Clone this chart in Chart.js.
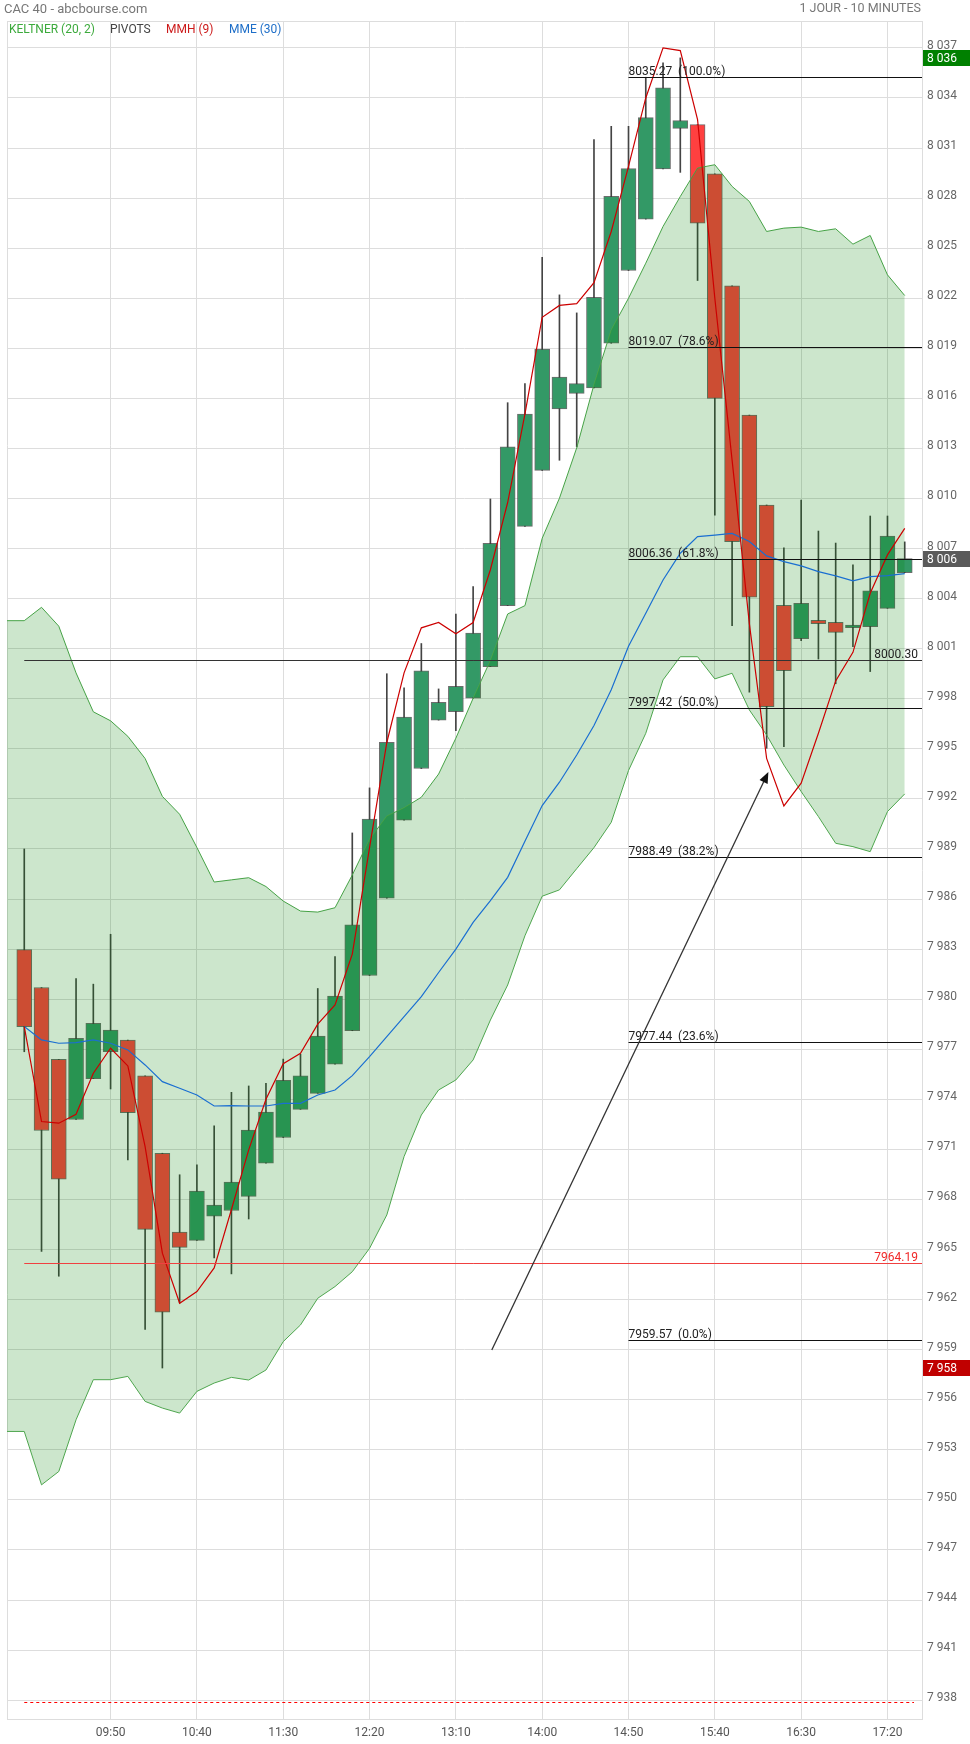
<!DOCTYPE html>
<html><head><meta charset="utf-8">
<script src="https://cdn.jsdelivr.net/npm/chart.js@4.4.1/dist/chart.umd.min.js"></script>
<style>
html,body{margin:0;padding:0;background:#fff;}
#wrap{position:relative;width:970px;height:1744px;font-family:Roboto,"Open Sans",sans-serif;overflow:hidden;}
#c{position:absolute;left:0;top:0;}
.t{position:absolute;white-space:nowrap;line-height:1;}
</style></head><body>
<div id="wrap">
<canvas id="c" width="970" height="1744"></canvas>
<div class="t" style="left:4px;top:2px;font-size:13px;color:#777">CAC 40 - abcbourse.com</div>
<div class="t" style="right:49px;top:2px;font-size:12.5px;color:#777">1 JOUR - 10 MINUTES</div>
<div class="t" style="left:9px;top:23px;font-size:12px;color:#3caa3c">KELTNER (20, 2)</div>
<div class="t" style="left:110px;top:23px;font-size:12px;color:#444">PIVOTS</div>
<div class="t" style="left:166px;top:23px;font-size:12px;color:#cc1a1a">MMH (9)</div>
<div class="t" style="left:229px;top:23px;font-size:12px;color:#1e6ec8">MME (30)</div>
</div>
<script>
// ---- data (10-minute candles, 09:00 .. 17:30) ----
const openP  = [7982.97,7980.70,7976.39,7972.79,7975.24,7976.85,7977.55,7975.40,7970.77,7966.05,
                7965.55,7967.00,7967.34,7968.18,7970.17,7971.71,7973.40,7974.36,7976.10,7978.11,
                7981.42,7986.05,7990.72,7993.82,7996.72,7997.23,7998.03,7999.93,8003.58,8008.33,
                8011.68,8015.36,8016.30,8016.63,8019.30,8023.66,8026.74,8029.74,8032.18,8032.40,
                8029.46,8022.74,8015.00,8009.61,8003.60,8001.60,8002.70,8002.58,8002.26,8002.32,
                8003.42,8005.56];
const highP  = [7989.00,7980.70,7976.39,7981.24,7980.90,7983.89,7977.55,7975.40,7970.77,7969.48,
                7970.08,7972.41,7974.42,7974.80,7974.96,7976.41,7976.70,7980.64,7982.55,7989.96,
                7992.66,7999.50,7998.66,8001.31,7998.59,8003.08,8004.72,8009.97,8015.74,8016.88,
                8024.45,8022.20,8021.12,8031.50,8032.30,8032.30,8035.24,8036.10,8036.40,8032.40,
                8029.46,8022.74,8015.00,8009.61,8007.05,8009.91,8008.05,8007.33,8006.02,8008.95,
                8008.95,8007.40];
const lowP   = [7976.85,7964.89,7963.40,7972.79,7975.24,7974.62,7970.37,7960.21,7957.90,7961.80,
                7965.55,7964.49,7963.54,7966.83,7970.17,7971.71,7973.40,7974.36,7976.10,7978.11,
                7981.42,7986.05,7990.72,7993.82,7996.72,7996.09,7998.03,7999.93,8003.58,8008.33,
                8011.68,8012.29,8013.09,8016.63,8019.30,8023.66,8026.74,8029.74,8029.54,8023.06,
                8009.00,8002.38,7998.39,7995.03,7995.13,8001.48,8000.38,7998.90,8001.12,7999.63,
                8003.42,8005.56];
const closeP = [7978.35,7972.13,7969.22,7977.65,7978.55,7978.15,7973.20,7966.21,7961.24,7965.13,
                7968.50,7967.66,7969.04,7972.15,7973.23,7975.14,7975.40,7977.79,7980.18,7984.46,
                7990.79,7995.39,7996.90,7999.67,7997.78,7998.74,8001.94,8007.32,8013.09,8015.06,
                8018.95,8017.28,8016.88,8022.05,8028.10,8029.76,8032.82,8034.60,8032.64,8026.50,
                8016.00,8007.42,8004.08,7997.53,7999.69,8003.72,8002.50,8001.98,8002.42,8004.46,
                8007.75,8006.40];
// MMH (9)
const mmh = [7978.36,7972.67,7972.57,7973.10,7975.56,7977.06,7976.00,7971.17,7964.78,7961.78,
             7962.48,7963.90,7967.40,7970.97,7974.00,7976.13,7976.76,7978.50,7979.65,7982.70,
             7989.08,7995.38,7999.55,8002.25,8002.57,8001.89,8002.57,8005.73,8009.76,8015.06,
             8020.86,8021.57,8021.67,8022.93,8026.00,8029.90,8034.00,8037.00,8036.84,8032.70,
             8022.00,8012.30,8002.50,7994.43,7991.58,7992.94,7995.93,7999.07,8000.78,8004.32,
             8006.62,8008.21];
// MME (30)
const mme = [7978.36,7977.56,7977.36,7977.40,7977.56,7977.36,7976.96,7976.06,7975.06,7974.66,
             7974.26,7973.60,7973.62,7973.60,7973.60,7973.76,7973.76,7974.26,7974.56,7975.42,
             7976.56,7977.76,7978.95,7980.15,7981.60,7983.00,7984.60,7985.90,7987.30,7989.46,
             7991.60,7993.00,7994.63,7996.40,7998.54,8001.15,8003.12,8005.12,8006.72,8007.72,
             8007.81,8007.91,8007.42,8006.56,8006.22,8005.96,8005.62,8005.36,8005.06,8005.32,
             8005.38,8005.50];
// Keltner (20, 2) bands, first value read at the left edge of the plot
const keltUp = [8002.68,
             8002.68,8003.48,8002.35,7999.55,7997.22,7996.68,7995.75,7994.42,7992.15,7991.08,
             7989.09,7987.02,7987.15,7987.28,7986.75,7985.88,7985.28,7985.22,7985.48,7987.44,
             7989.58,7990.97,7991.47,7992.10,7993.49,7995.64,7998.03,8000.30,8003.08,8003.58,
             8007.62,8010.02,8013.04,8016.83,8020.10,8022.00,8024.10,8026.30,8028.10,8029.80,
             8030.00,8028.70,8027.80,8026.00,8026.20,8026.26,8026.00,8026.16,8025.24,8025.76,
             8023.40,8022.16];
const keltLo = [7954.10,
             7954.10,7950.90,7951.70,7954.80,7957.20,7957.20,7957.40,7955.90,7955.50,7955.20,
             7956.50,7957.00,7957.34,7957.18,7957.78,7959.48,7960.48,7962.08,7962.78,7963.67,
             7965.07,7967.07,7970.57,7973.06,7974.56,7975.16,7976.36,7978.75,7980.85,7983.80,
             7986.17,7986.55,7987.82,7989.08,7990.60,7993.70,7995.93,7999.13,8000.52,8000.52,
             7999.19,7999.53,7997.33,7995.83,7994.03,7992.44,7990.94,7989.34,7989.14,7988.84,
             7991.24,7992.30];
// axes
const yTickValues = [7938,7941,7944,7947,7950,7953,7956,7959,7962,7965,7968,7971,7974,7977,7980,7983,7986,
                     7989,7992,7995,7998,8001,8004,8007,8010,8013,8016,8019,8022,8025,8028,8031,8034,8037];
const xTickSlots  = [5,10,15,20,25,30,35,40,45,50];
const xTickLabels = ['09:50','10:40','11:30','12:20','13:10','14:00','14:50','15:40','16:30','17:20'];
// retracement / pivots
const fibLevels = [8035.27,8019.07,8006.36,7997.42,7988.49,7977.44,7959.57];
const fibPct    = ['100.0%','78.6%','61.8%','50.0%','38.2%','23.6%','0.0%'];
const fibStartSlot = 35;
const pivotLevel = 8000.30;
const supportLevel = 7964.19;
const dashedLevel = 7937.90;
const arrowFrom = [27.08, 7958.98];
const arrowTo   = [43.10, 7993.61];
const markValues = [8036.4, 8006.4, 7957.9];
const markTexts  = ['8 036', '8 006', '7 958'];

// ---- chart ----
const slots = Array.from({length: openP.length + 2}, (_, k) => k - 1); // slot -1 .. 52
const padC = arr => [null, ...arr, null];
const bodyData = padC(openP.map((o, i) => [o, closeP[i]]));
const wickData = padC(lowP.map((l, i) => [l, highP[i]]));
const bodyColors = padC(openP.map((o, i) => closeP[i] >= o ? '#339966' : '#ff4040'));

Chart.defaults.font.family = 'Roboto';

const overlay = {
  id: 'overlay',
  afterDatasetsDraw(chart) {
    const {ctx, chartArea: a, scales: {x, y}} = chart;
    const px = s => x.getPixelForValue(s + 1);
    const py = v => Math.round(y.getPixelForValue(v)) + 0.5;
    const hline = (x0, x1, yy) => { ctx.beginPath(); ctx.moveTo(x0, yy); ctx.lineTo(x1, yy); ctx.stroke(); };
    ctx.save();
    ctx.lineWidth = 1;
    ctx.strokeStyle = '#dddddd';
    hline(a.left, a.right, a.top + 0.5);
    ctx.font = '12px Roboto';
    // fibonacci
    ctx.strokeStyle = '#111'; ctx.fillStyle = '#222'; ctx.textAlign = 'left'; ctx.textBaseline = 'alphabetic';
    fibLevels.forEach((v, k) => {
      const yy = py(v), x0 = px(fibStartSlot);
      hline(x0, a.right, yy);
      ctx.fillText(v.toFixed(2) + '  (' + fibPct[k] + ')', x0, yy - 2.5);
    });
    // pivot
    ctx.strokeStyle = '#333'; ctx.fillStyle = '#222'; ctx.textAlign = 'right';
    hline(px(0), a.right, py(pivotLevel));
    ctx.fillText(pivotLevel.toFixed(2), a.right - 4, py(pivotLevel) - 2.5);
    ctx.strokeStyle = '#f04040'; ctx.fillStyle = '#f02828';
    hline(px(0), a.right, py(supportLevel));
    ctx.fillText(supportLevel.toFixed(2), a.right - 4, py(supportLevel) - 2.5);
    ctx.strokeStyle = '#ff0000'; ctx.setLineDash([3, 3]);
    hline(px(0), a.right - 8, py(dashedLevel));
    ctx.setLineDash([]);
    // arrow
    const ax0 = x.getPixelForValue(arrowFrom[0] + 1), ay0 = y.getPixelForValue(arrowFrom[1]);
    const ax1 = x.getPixelForValue(arrowTo[0] + 1), ay1 = y.getPixelForValue(arrowTo[1]);
    const ang = Math.atan2(ay1 - ay0, ax1 - ax0);
    ctx.strokeStyle = '#333'; ctx.fillStyle = '#111'; ctx.lineWidth = 1.3;
    ctx.beginPath(); ctx.moveTo(ax0, ay0);
    ctx.lineTo(ax1 - 8 * Math.cos(ang), ay1 - 8 * Math.sin(ang)); ctx.stroke();
    ctx.beginPath();
    ctx.moveTo(ax1, ay1);
    ctx.lineTo(ax1 - 11 * Math.cos(ang) + 4.5 * Math.sin(ang), ay1 - 11 * Math.sin(ang) - 4.5 * Math.cos(ang));
    ctx.lineTo(ax1 - 11 * Math.cos(ang) - 4.5 * Math.sin(ang), ay1 - 11 * Math.sin(ang) + 4.5 * Math.cos(ang));
    ctx.closePath(); ctx.fill();
    ctx.restore();
  },
  afterDraw(chart) {
    const {ctx, chartArea: a, scales: {y}} = chart;
    const cols = ['#008000', '#5a5a5a', '#c00000'];
    ctx.save();
    ctx.font = '12px Roboto'; ctx.textAlign = 'left'; ctx.textBaseline = 'middle';
    markValues.forEach((v, k) => {
      const yy = Math.round(y.getPixelForValue(v));
      ctx.fillStyle = cols[k];
      ctx.fillRect(a.right + 1, yy - 8, 970 - a.right, 16);
      ctx.fillStyle = '#fff';
      ctx.fillText(markTexts[k], a.right + 5, yy + 0.5);
    });
    ctx.restore();
  }
};

new Chart(document.getElementById('c'), {
  type: 'bar',
  data: {
    labels: slots,
    datasets: [
      {type: 'bar', data: wickData, backgroundColor: '#444', barThickness: 1, grouped: false, order: 10},
      {type: 'bar', data: bodyData, backgroundColor: bodyColors, borderColor: 'rgba(60,60,60,0.75)',
       borderWidth: 1, borderSkipped: false, barThickness: 15, grouped: false, order: 9},
      {type: 'line', data: [...keltUp, null], borderColor: '#4ea64e', borderWidth: 1, pointRadius: 0,
       fill: false, tension: 0, order: 5},
      {type: 'line', data: [...keltLo, null], borderColor: '#4ea64e', borderWidth: 1, pointRadius: 0,
       fill: '-1', backgroundColor: 'rgba(0,128,0,0.2)', tension: 0, order: 4},
      {type: 'line', data: padC(mme), borderColor: '#1a6fd1', borderWidth: 1.2, pointRadius: 0, tension: 0, order: 2},
      {type: 'line', data: padC(mmh), borderColor: '#cc0000', borderWidth: 1.2, pointRadius: 0, tension: 0, order: 1}
    ]
  },
  options: {
    responsive: false, animation: false, events: [],
    layout: {padding: {left: 4, top: 21, right: 0, bottom: 0}},
    plugins: {legend: {display: false}, tooltip: {enabled: false}},
    scales: {
      x: {
        type: 'category', offset: false,
        grid: {offset: false, drawTicks: false,
          color: c => { const s = c.index - 1; return (s === -1 || xTickSlots.includes(s)) ? '#dddddd' : 'rgba(0,0,0,0)'; }},
        border: {display: true, color: '#dddddd'},
        ticks: {autoSkip: false, maxRotation: 0, minRotation: 0, padding: 7, color: '#555',
          font: {family: 'Roboto', size: 12},
          callback: (v, k) => { const j = xTickSlots.indexOf(k - 1); return j >= 0 ? xTickLabels[j] : ''; }},
        afterFit: s => { s.height = 25; }
      },
      y: {
        type: 'linear', position: 'right', min: 7936.87, max: 8038.61,
        afterBuildTicks: s => { s.ticks = yTickValues.map(v => ({value: v})); },
        grid: {color: '#dddddd', drawTicks: false},
        border: {display: true, color: '#dddddd'},
        ticks: {padding: 5, color: '#666', labelOffset: -2, font: {family: 'Roboto', size: 12},
          callback: v => { const s = String(Math.round(v)); return s.slice(0, s.length - 3) + ' ' + s.slice(-3); }},
        afterFit: s => { s.width = 48; }
      }
    }
  },
  plugins: [overlay]
});
</script>
</body></html>
